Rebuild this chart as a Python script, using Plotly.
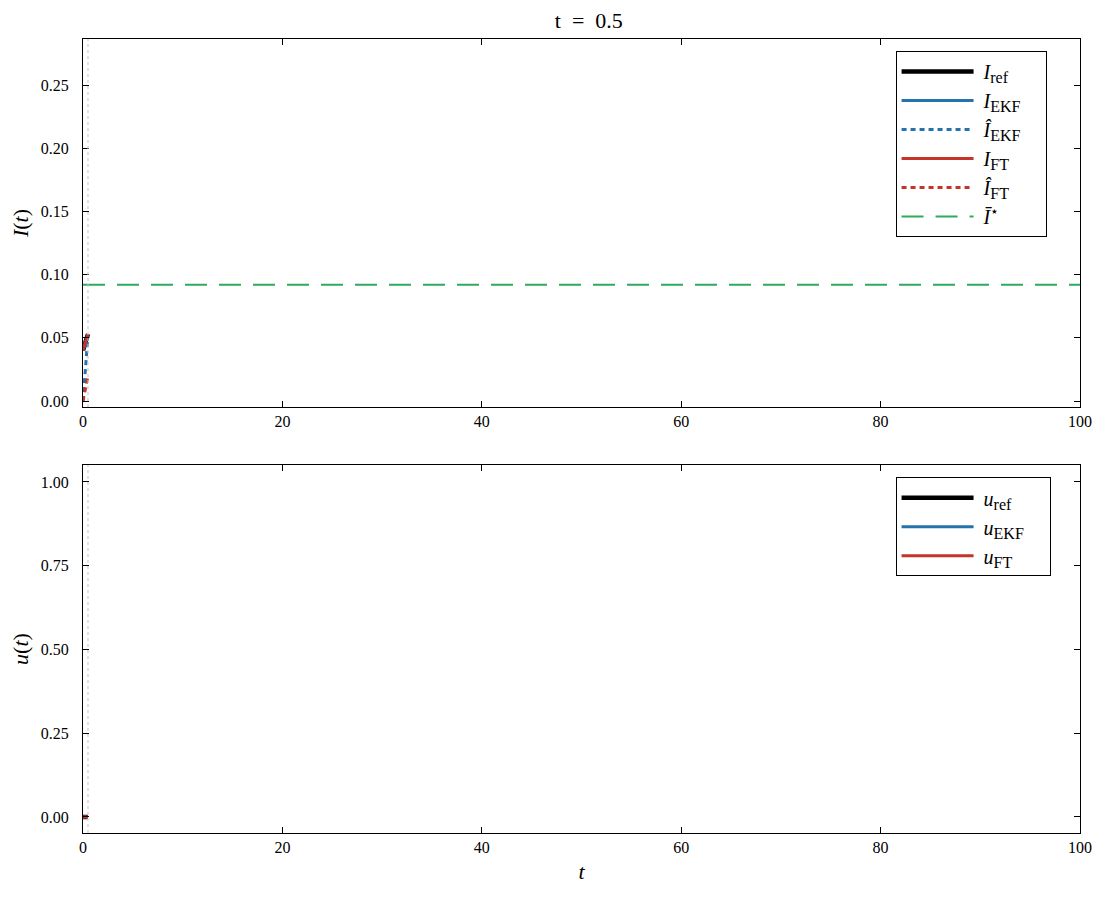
import plotly.graph_objects as go
from plotly.subplots import make_subplots

# simulation snapshot at t = 0.5
t_now = 0.5
t = [0.0, 0.1, 0.2, 0.3, 0.4, 0.5]

I_ref = [0.040, 0.043, 0.046, 0.048, 0.050, 0.053]
I_ekf = [0.040, 0.043, 0.046, 0.048, 0.050, 0.053]
I_hat_ekf = [0.000, 0.012, 0.024, 0.035, 0.045, 0.052]
I_ft = [0.040, 0.043, 0.046, 0.048, 0.050, 0.053]
I_hat_ft = [0.000, 0.004, 0.008, 0.012, 0.016, 0.020]
I_star = 0.092

u_ref = [0.0, 0.0, 0.0, 0.0, 0.0, 0.0]
u_ekf = [0.0, 0.0, 0.0, 0.0, 0.0, 0.0]
u_ft = [0.0, 0.0, 0.0, 0.0, 0.0, 0.0]

t_range = [0, 100]
i_ticks = [0.0, 0.05, 0.10, 0.15, 0.20, 0.25]
u_ticks = [0.0, 0.25, 0.50, 0.75, 1.00]
x_ticks = [0, 20, 40, 60, 80, 100]

BLACK = "#000000"
BLUE = "#2473ad"
RED = "#c53329"
GREEN = "#2eaa5c"
FONT = "Liberation Serif"


def lab(sym, sub=None, sup=None):
    s = "&nbsp;<i>" + sym + "</i>"
    if sub:
        s += "<sub><span style='font-size:16px'>" + sub + "</span></sub>"
    if sup:
        s += "<sup>" + sup + "</sup>"
    return s + "&nbsp;&nbsp;&nbsp;&nbsp;"


fig = make_subplots(rows=2, cols=1, vertical_spacing=0.073)

top = [
    (I_ref, BLACK, 4.5, "solid", lab("I", "ref")),
    (I_ekf, BLUE, 3, "solid", lab("I", "EKF")),
    (I_hat_ekf, BLUE, 3, "5px,4px", lab("Î", "EKF")),
    (I_ft, RED, 3, "solid", lab("I", "FT")),
    (I_hat_ft, RED, 3, "5px,4px", lab("Î", "FT")),
]
for y, c, w, d, name in top:
    fig.add_trace(go.Scatter(x=t, y=y, mode="lines", name=name,
                             line=dict(color=c, width=w, dash=d),
                             legend="legend"), row=1, col=1)
fig.add_trace(go.Scatter(x=t_range, y=[I_star, I_star], mode="lines",
                         name=lab("Ī", sup="⋆"),
                         line=dict(color=GREEN, width=2, dash="22px,12px"),
                         legend="legend"), row=1, col=1)

bottom = [
    (u_ref, BLACK, 4.5, lab("u", "ref")),
    (u_ekf, BLUE, 3, lab("u", "EKF")),
    (u_ft, RED, 3, lab("u", "FT")),
]
for y, c, w, name in bottom:
    fig.add_trace(go.Scatter(x=t, y=y, mode="lines", name=name,
                             line=dict(color=c, width=w),
                             legend="legend2"), row=2, col=1)

# current time marker
for r in (1, 2):
    fig.add_vline(x=t_now, line=dict(color="#c4c4c4", width=1, dash="3px,3px"),
                  row=r, col=1)

axis_style = dict(showgrid=False, zeroline=False, showline=True,
                  linecolor="black", linewidth=1, mirror="ticks",
                  ticks="inside", ticklen=6, tickcolor="black",
                  tickfont=dict(size=16, family=FONT, color="black"))

fig.update_xaxes(range=t_range, tickvals=x_ticks, **axis_style)
fig.update_xaxes(title=dict(text="<i>t</i>", font=dict(size=22, family=FONT),
                            standoff=8), row=2, col=1)
fig.update_yaxes(range=[-0.0047, 0.2864], tickvals=i_ticks,
                 tickformat=".2f", ticklabelstandoff=10, automargin=False,
                 **axis_style, row=1, col=1)
fig.update_yaxes(range=[-0.0478, 1.0507], tickvals=u_ticks,
                 tickformat=".2f", ticklabelstandoff=10, automargin=False,
                 **axis_style, row=2, col=1)
fig.update_yaxes(title=dict(text="<i>I</i>(<i>t</i>)",
                            font=dict(size=22, family=FONT), standoff=6),
                 row=1, col=1)
fig.update_yaxes(title=dict(text="<i>u</i>(<i>t</i>)",
                            font=dict(size=22, family=FONT), standoff=6),
                 row=2, col=1)

legend_style = dict(bgcolor="white", bordercolor="black", borderwidth=1,
                    font=dict(size=20, family=FONT, color="black"),
                    itemwidth=72, xanchor="left", yanchor="top",
                    tracegroupgap=0)

fig.update_layout(
    width=1100, height=900,
    margin=dict(l=75, r=28, t=31, b=75),
    plot_bgcolor="white", paper_bgcolor="white",
    font=dict(family=FONT, color="black"),
    title=dict(text="t&nbsp;&nbsp;=&nbsp;&nbsp;0.5", x=0.528, xanchor="center",
               y=0.986, yanchor="middle", font=dict(size=22, family=FONT)),
    legend=dict(x=0.815, y=0.985, **legend_style),
    legend2=dict(x=0.815, y=0.448, **legend_style),
)

fig.write_html("out.html")
